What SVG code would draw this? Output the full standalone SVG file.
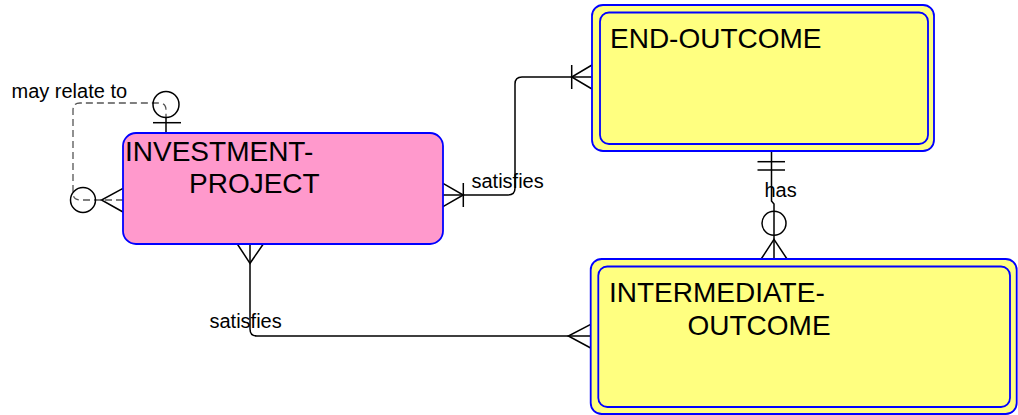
<svg xmlns="http://www.w3.org/2000/svg" width="1018" height="415" viewBox="0 0 1018 415">
<style>
.ent{stroke:#0000FF;stroke-width:1.8}
.pink{fill:#FF99CC}
.yel{fill:#FFFF80}
.big{font-family:"Liberation Sans",Arial,sans-serif;font-size:28px;fill:#000}
.lbl{font-family:"Liberation Sans",Arial,sans-serif;font-size:20px;fill:#000}
.ln{fill:none;stroke:#000;stroke-width:1.5}
.dash{fill:none;stroke:#555;stroke-width:1.3;stroke-dasharray:7,4}
</style>
<rect width="1018" height="415" fill="#fff"/>
<g id="connectors">
  <g id="c-self">
    <path class="dash" d="M123 200 H80 Q73 200 73 193 V110 Q73 103 80 103 H159 Q166 103 166 110 V117"/>
    <line class="ln" x1="166" y1="117" x2="166" y2="133"/>
    <line class="ln" x1="153" y1="122.7" x2="181" y2="122.7"/>
    <circle class="ln" cx="166" cy="104.5" r="13"/>
    <circle class="ln" cx="83" cy="200" r="12.5"/>
    <path class="ln" d="M123 188.3 L101.5 200 L123 212"/>
    <text class="lbl" x="11.5" y="97.7">may relate to</text>
  </g>
  <g id="c-inv-end">
    <path class="ln" d="M443 195 H508 Q515 195 515 188 V84 Q515 77 522 77 H592"/>
    <path class="ln" d="M443 183.3 L463.3 195 L443 206.7"/>
    <line class="ln" x1="463.3" y1="183" x2="463.3" y2="207"/>
    <path class="ln" d="M592 65 L571.7 77 L592 89"/>
    <line class="ln" x1="571.7" y1="65" x2="571.7" y2="89"/>
    <text class="lbl" x="471.5" y="188.3">satisfies</text>
  </g>
  <g id="c-end-int">
    <path class="ln" d="M771.5 151 V201 L774 204 V259"/>
    <line class="ln" x1="757.5" y1="161.7" x2="785" y2="161.7"/>
    <line class="ln" x1="757.5" y1="170" x2="785" y2="170"/>
    <circle class="ln" cx="774" cy="223.3" r="12"/>
    <path class="ln" d="M761.5 258.5 L774 239.3 L786.7 258.5"/>
    <text class="lbl" x="764.5" y="197.3">has</text>
  </g>
  <g id="c-inv-int">
    <path class="ln" d="M250 244 V329 Q250 336 257 336 H590.7"/>
    <path class="ln" d="M237.3 244 L250 263.3 L263.3 244"/>
    <path class="ln" d="M590.7 324.3 L568.3 336 L590.7 348"/>
    <text class="lbl" x="209.5" y="327.7">satisfies</text>
  </g>
</g>
<g id="investment-project">
  <rect class="ent pink" x="123" y="133" width="320" height="111" rx="13" ry="13"/>
  <text class="big" x="125" y="161">INVESTMENT-</text>
  <text class="big" x="189" y="193.3">PROJECT</text>
</g>
<g id="end-outcome">
  <rect class="ent yel" x="592" y="5" width="342" height="146" rx="11" ry="11"/>
  <rect class="ent yel" x="600" y="12.5" width="328" height="131.5" rx="9" ry="9"/>
  <text class="big" x="610" y="47.7">END-OUTCOME</text>
</g>
<g id="intermediate-outcome">
  <rect class="ent yel" x="590.7" y="259" width="426" height="155" rx="11" ry="11"/>
  <rect class="ent yel" x="598.3" y="266.5" width="411.7" height="140.5" rx="9" ry="9"/>
  <text class="big" x="609" y="301.7">INTERMEDIATE-</text>
  <text class="big" x="687.5" y="335">OUTCOME</text>
</g>
</svg>
